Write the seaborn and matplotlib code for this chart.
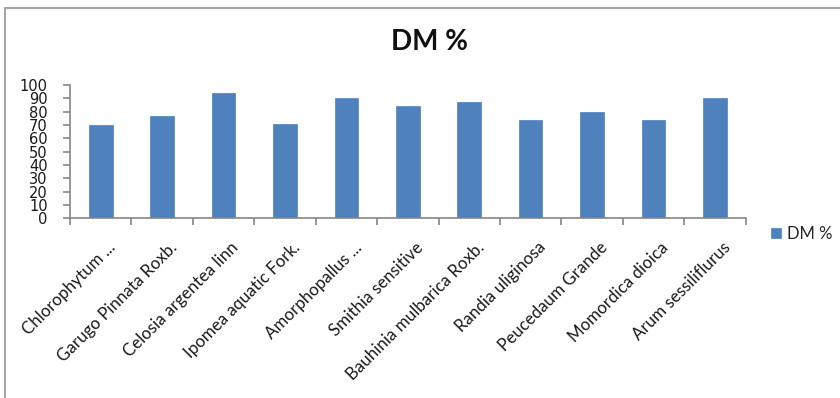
import matplotlib
matplotlib.use("Agg")
import matplotlib.pyplot as plt
from matplotlib.lines import Line2D
import matplotlib.transforms as mtransforms
import seaborn as sns
import pandas as pd

# Dry matter content per plant species
species = [
    "Chlorophytum ...",
    "Garugo Pinnata Roxb.",
    "Celosia argentea linn",
    "Ipomea aquatic Fork.",
    "Amorphopallus ...",
    "Smithia sensitive",
    "Bauhinia mulbarica Roxb.",
    "Randia uliginosa",
    "Peucedaum Grande",
    "Momordica dioica",
    "Arum sessiliflurus",
]
dm_percent = [70, 77, 94, 71, 90, 84, 87, 74, 80, 74, 90]
y_ticks = [0, 10, 20, 30, 40, 50, 60, 70, 80, 90, 100]
series_name = "DM %"

df = pd.DataFrame({"species": species, "dm": dm_percent})

sns.set_theme(style="white")
plt.rcParams["font.family"] = ["Lato", "DejaVu Sans"]

BAR_BLUE = "#4F81BD"
AXIS_GREY = "#868686"

fig = plt.figure(figsize=(8.4, 3.98), dpi=100)
ax = fig.add_axes([0.0833, 0.4515, 0.8044, 0.3349])

sns.barplot(data=df, x="species", y="dm", color=BAR_BLUE, saturation=1,
            width=0.385, edgecolor=BAR_BLUE, linewidth=0.5, ax=ax,
            label=series_name)

ax.set_xlim(-0.5, len(species) - 0.5)
ax.set_ylim(0, 100)
ax.set_xlabel("")
ax.set_ylabel("")

# Axes styling: only left and bottom spines, grey
for side in ("top", "right"):
    ax.spines[side].set_visible(False)
for side in ("left", "bottom"):
    ax.spines[side].set_color(AXIS_GREY)
    ax.spines[side].set_linewidth(1.2)

ax.set_yticks(y_ticks)
ax.set_yticklabels([str(v) for v in y_ticks], family="DejaVu Sans",
                   fontsize=10.5, color="#1a1a1a")
ax.tick_params(axis="y", which="major", direction="out", length=5,
               width=1.2, color=AXIS_GREY, pad=11, left=True)

# Category labels at centres, tick marks at category boundaries
ax.set_xticks(range(len(species)))
ax.set_xticklabels(species, rotation=45, ha="right", va="top",
                   rotation_mode="anchor", fontsize=12.2, color="#1a1a1a")
ax.tick_params(axis="x", which="major", length=0, pad=15)
ax.set_xticks([i - 0.5 for i in range(len(species) + 1)], minor=True)
ax.tick_params(axis="x", which="minor", direction="out", length=5,
               width=1.2, color=AXIS_GREY, bottom=True)
shift = mtransforms.ScaledTranslation(7 / 100, 0, fig.dpi_scale_trans)
for lbl in ax.get_xticklabels():
    lbl.set_transform(lbl.get_transform() + shift)

ax.grid(False)
if ax.get_legend() is not None:
    ax.get_legend().remove()

fig.text(0.511, 0.894, "DM %", ha="center", va="center",
         fontsize=20, fontweight="bold", color="#111111")

handles, labels = ax.get_legend_handles_labels()
fig.legend(handles[:1], [series_name], loc="center left",
           bbox_to_anchor=(0.918, 0.412), frameon=False, fontsize=12,
           handlelength=0.6, handleheight=0.6, handletextpad=0.35,
           borderpad=0, borderaxespad=0)

# Chart frame (top and left edges)
fig.add_artist(Line2D([5 / 840, 1.0], [1 - 8 / 398, 1 - 8 / 398],
                      transform=fig.transFigure, color="#a6a6a6", lw=1.5))
fig.add_artist(Line2D([5 / 840, 5 / 840], [0.0, 1 - 8 / 398],
                      transform=fig.transFigure, color="#a6a6a6", lw=1.5))

fig.savefig("out.png", dpi=100, facecolor="white")
